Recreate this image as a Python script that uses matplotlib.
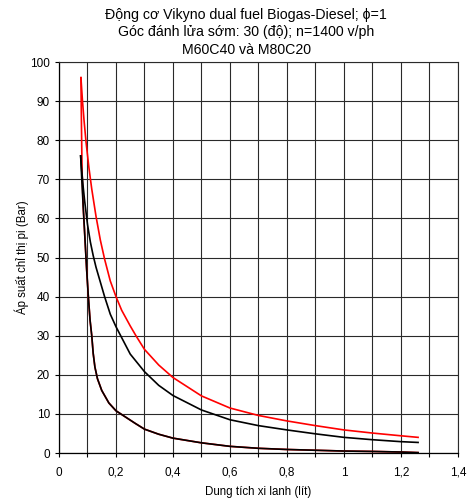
import matplotlib
matplotlib.use("Agg")
import matplotlib.pyplot as plt
import numpy as np

plt.rcParams['font.family'] = ['Liberation Sans', 'DejaVu Sans']

# M60C40 (red): compression and expansion lines, V in lit, p in bar
v_comp_m60 = [1.26, 1.2, 1.1, 1.0, 0.9, 0.8, 0.7, 0.6, 0.5, 0.4, 0.35, 0.3, 0.267,
              0.2, 0.175, 0.15, 0.135, 0.126, 0.12, 0.115, 0.109, 0.103, 0.097,
              0.091, 0.085, 0.081, 0.079, 0.077]
p_comp_m60 = [0.1, 0.25, 0.4, 0.5, 0.7, 0.9, 1.2, 1.7, 2.6, 3.8, 4.8, 6.1, 7.6,
              10.8, 12.8, 16, 19, 22, 25.5, 30, 34, 40, 47,
              55, 63, 72, 83, 96]
v_exp_m60 = [0.077, 0.082, 0.088, 0.095, 0.105, 0.115, 0.13, 0.145, 0.16, 0.18, 0.2,
             0.22, 0.25, 0.27, 0.3, 0.35, 0.4, 0.5, 0.6, 0.7, 0.8, 0.9, 1.0, 1.1, 1.2, 1.26]
p_exp_m60 = [96, 90.5, 85, 79.5, 73, 67.5, 60.5, 54.5, 49.6, 44, 40,
             36.5, 32.5, 30, 26.5, 22.5, 19.3, 14.6, 11.5, 9.6, 8.2, 7.0, 5.9, 5.1, 4.4, 4.0]

# M80C20 (black)
v_comp_m80 = [1.26, 1.2, 1.1, 1.0, 0.9, 0.8, 0.7, 0.6, 0.5, 0.4, 0.35, 0.3, 0.267,
              0.2, 0.175, 0.15, 0.135, 0.126, 0.12, 0.115, 0.109, 0.103, 0.097,
              0.091, 0.085, 0.08, 0.076]
p_comp_m80 = [0.1, 0.25, 0.4, 0.5, 0.7, 0.9, 1.2, 1.7, 2.6, 3.8, 4.8, 6.1, 7.6,
              10.8, 12.8, 16, 19, 22, 25.5, 30, 34, 40, 47,
              55, 63, 70, 76]
v_exp_m80 = [0.076, 0.08, 0.085, 0.09, 0.1, 0.11, 0.12, 0.13, 0.14, 0.16, 0.18,
             0.2, 0.22, 0.25, 0.3, 0.35, 0.4, 0.5, 0.6, 0.7, 0.8, 0.9, 1.0, 1.1, 1.2, 1.26]
p_exp_m80 = [76, 72, 68, 64.5, 58.5, 54, 50.5, 47.5, 45, 40, 35.5,
             32.3, 29.5, 25.3, 20.8, 17.3, 14.7, 11, 8.5, 7.0, 5.9, 4.9, 4.0, 3.4, 2.9, 2.7]

x_ticks = np.round(np.arange(0, 1.41, 0.1), 1)
y_ticks = np.arange(0, 101, 10)

fig = plt.figure(figsize=(4.67, 5.03), dpi=100)
ax = fig.add_axes([0.1263, 0.0994, 0.8544, 0.7773])

ax.plot(v_comp_m60, p_comp_m60, color='#ff0000', lw=1.2)
ax.plot(v_exp_m60, p_exp_m60, color='#ff0000', lw=1.2)
ax.plot(v_comp_m80, p_comp_m80, color='black', lw=1.2)
ax.plot(v_exp_m80, p_exp_m80, color='black', lw=1.2)

ax.set_xlim(0, 1.4)
ax.set_ylim(0, 100)
ax.set_xticks(x_ticks)
xlabels = []
for i, t in enumerate(x_ticks):
    if i % 2:
        xlabels.append('')
    else:
        xlabels.append(('%g' % t).replace('.', ','))
ax.set_xticklabels(xlabels)
ax.set_yticks(y_ticks)
ax.tick_params(labelsize=8.5, length=3, width=0.8, direction='out', colors='black')
ax.tick_params(axis='x', pad=7)
ax.grid(True, color='#2a2a2a', lw=0.8)
for side in ['left', 'bottom']:
    ax.spines[side].set_color('black')
    ax.spines[side].set_linewidth(0.9)
for side in ['top', 'right']:
    ax.spines[side].set_color('#2a2a2a')
    ax.spines[side].set_linewidth(0.8)

ax.set_xlabel('Dung tích xi lanh (lít)', fontsize=8.3, labelpad=5)
ax.set_ylabel('Áp suất chỉ thị pi (Bar)', fontsize=8.3, labelpad=1)

title = ['Động cơ Vikyno dual fuel Biogas-Diesel; ϕ=1',
         'Góc đánh lửa sớm: 30 (độ); n=1400 v/ph',
         'M60C40 và M80C20']
for k, line in enumerate(title):
    fig.text(246 / 467, 1 - (15 + 17.3 * k) / 503, line, ha='center', va='center',
             fontsize=10.2)

fig.savefig('out.png', dpi=100)
